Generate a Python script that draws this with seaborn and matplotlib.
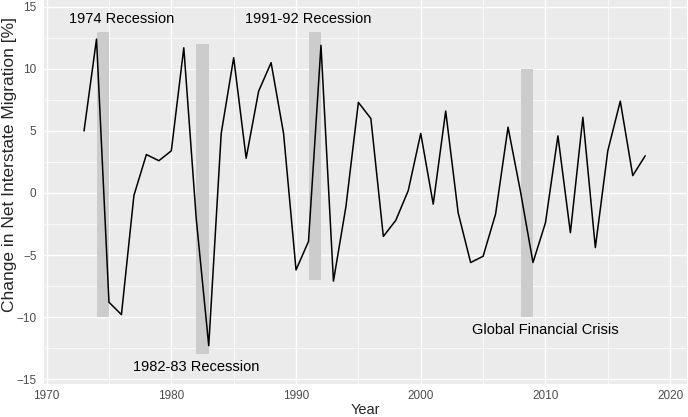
import seaborn as sns
import matplotlib.pyplot as plt
from matplotlib.ticker import MultipleLocator
import numpy as np
import pandas as pd

# Net interstate migration, year-on-year change (%)
years = list(range(1973, 2019))
change = [5.0, 12.4, -8.8, -9.8, -0.2, 3.1, 2.6, 3.4, 11.7, -2.1,
          -12.3, 4.8, 10.9, 2.8, 8.2, 10.5, 4.8, -6.2, -3.9, 11.9,
          -7.1, -1.1, 7.3, 6.0, -3.5, -2.2, 0.2, 4.8, -0.9, 6.6,
          -1.6, -5.6, -5.1, -1.7, 5.3, 0.1, -5.6, -2.4, 4.6, -3.2,
          6.1, -4.4, 3.4, 7.4, 1.4, 3.0]

# Recession shading
rec_start = [1974, 1982, 1991, 2008]
rec_end = [1975, 1983, 1992, 2009]
rec_low = [-10, -13, -7, -10]
rec_high = [13, 12, 13, 10]

# Annotations
label_text = ["1974 Recession", "1982-83 Recession", "1991-92 Recession",
              "Global Financial Crisis"]
label_x = [1976, 1982, 1991, 2010]
label_y = [14, -14, 14, -11]

df = pd.DataFrame({"Year": years, "Change": change})

sns.set_style("darkgrid", {
    "axes.facecolor": "#EBEBEB",
    "grid.color": "white",
    "axes.edgecolor": "#EBEBEB",
})
plt.rcParams["font.family"] = ["Liberation Sans", "DejaVu Sans"]

fig = plt.figure(figsize=(6.88, 4.17), dpi=100)
ax = fig.add_axes([43.5 / 688, 1 - 383.5 / 417, (687 - 43.5) / 688, 383.5 / 417])

# minor grid
ax.xaxis.set_major_locator(MultipleLocator(10))
ax.xaxis.set_minor_locator(MultipleLocator(5))
ax.yaxis.set_major_locator(MultipleLocator(5))
ax.yaxis.set_minor_locator(MultipleLocator(2.5))
ax.grid(which="major", color="white", linewidth=1.0, zorder=0)
ax.grid(which="minor", color="white", linewidth=0.5, zorder=0)
ax.set_axisbelow(True)

for s, e, lo, hi in zip(rec_start, rec_end, rec_low, rec_high):
    ax.fill_between([s, e], lo, hi, color="#CCCCCC", linewidth=0, zorder=1)

sns.lineplot(data=df, x="Year", y="Change", color="black", linewidth=1.1,
             ax=ax, zorder=2)

for t, x, y in zip(label_text, label_x, label_y):
    ax.text(x, y, t, ha="center", va="center", fontsize=10.5, color="black")

ax.set_xlim(1969.75, 2021.35)
ax.set_ylim(-15.35, 15.55)
for sp in ax.spines.values():
    sp.set_visible(False)

ax.tick_params(axis="both", which="major", length=3, width=0.8, color="#333333",
               labelcolor="#4D4D4D", labelsize=8.5, pad=2)
ax.tick_params(axis="both", which="minor", length=0)
ax.set_xlabel("Year", fontsize=10.5)
ax.set_ylabel("Change in Net Interstate Migration [%]", fontsize=12.5)
ax.xaxis.set_label_coords(0.5, -0.05)
ax.yaxis.set_label_coords(-0.041, 0.57)

fig.savefig("out.png", dpi=100)
